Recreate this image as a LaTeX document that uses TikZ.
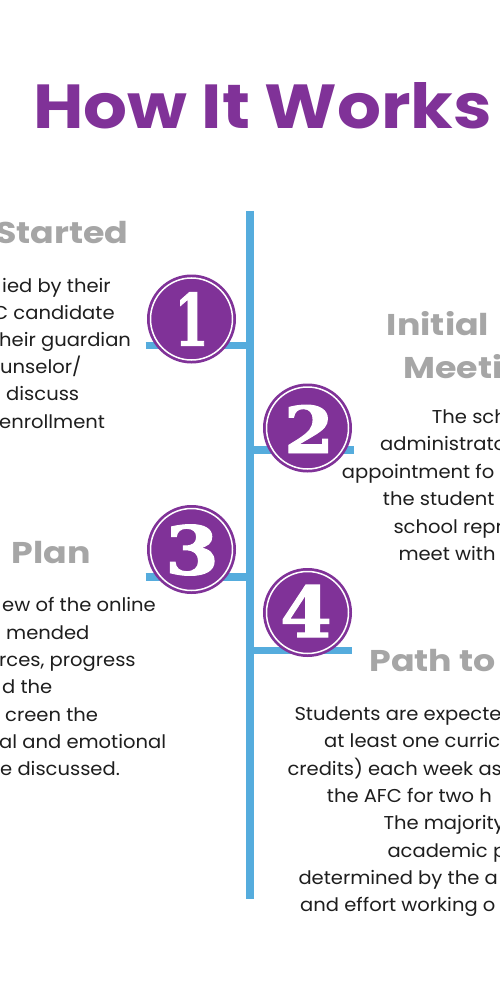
\documentclass[tikz,border=0pt]{standalone}
\usepackage{fontspec}
\setmainfont{Poppins}[FakeStretch=1.05]
\newfontfamily\headfont{Poppins}[FakeStretch=1.16]
\newfontfamily\digitfont{DejaVu Serif}[FakeBold=1.5]
\definecolor{brandpurple}{RGB}{128,50,152}
\definecolor{lineblue}{RGB}{85,172,221}
\definecolor{headgray}{RGB}{166,166,166}
\definecolor{bodyblack}{RGB}{30,30,30}
\begin{document}
\begin{tikzpicture}[x=1pt,y=-1pt,
  spine/.style={draw=lineblue,line width=8pt},
  branch/.style={draw=lineblue,line width=7.5pt},
  stepcircle/.style={circle,fill=brandpurple,minimum size=89pt,inner sep=0pt},
  ring/.style={circle,draw=white,line width=1.5pt,minimum size=82pt,inner sep=0pt},
  digit/.style={text=white,inner sep=0pt,font=\digitfont\bfseries},
  heading/.style={text=headgray,inner sep=0pt,font=\headfont\fontsize{30}{30}\selectfont\bfseries},
  body/.style={text=bodyblack,inner sep=0pt,font=\fontsize{18.6}{18.6}\selectfont,anchor=base west},
  titletext/.style={text=brandpurple,inner sep=0pt,font=\bfseries}
]
\useasboundingbox (0,0) rectangle (500,1000);
\clip (0,0) rectangle (500,1000);
\fill[white] (0,0) rectangle (500,1000);

% title
\node[titletext,anchor=north west] (title) at (33,82) {\resizebox{459pt}{46pt}{How It Works}};

% timeline
\coordinate (spinetop) at (249.5,211);
\coordinate (spinebot) at (249.5,899);
\draw[spine] (spinetop) -- (spinebot);
\coordinate (b1) at (145.7,345.5);
\coordinate (b2) at (354,450);
\coordinate (b3) at (145.7,577);
\coordinate (b4) at (352,650.5);
\draw[branch] (b1) -- (b1 -| spinetop);
\draw[branch] (b2 -| spinetop) -- (b2);
\draw[branch] (b3) -- (b3 -| spinetop);
\draw[branch] (b4 -| spinetop) -- (b4);

% step circles
\node[stepcircle] (c1) at (191.5,319) {};
\node[ring] (r1) at (c1) {};
\node[digit] (d1) at (c1) {\resizebox{34pt}{53pt}{1}};
\node[stepcircle] (c2) at (307.5,428) {};
\node[ring] (r2) at (c2) {};
\node[digit] (d2) at (309,429) {\resizebox{50pt}{48pt}{2}};
\node[stepcircle] (c3) at (191.5,549.5) {};
\node[ring] (r3) at (c3) {};
\node[digit] (d3) at (192,550) {\resizebox{54pt}{50pt}{3}};
\node[stepcircle] (c4) at (307.5,612.5) {};
\node[ring] (r4) at (c4) {};
\node[digit] (d4) at (306,611) {\resizebox{52pt}{52pt}{4}};

% headings
\node[heading,anchor=base west] (h1) at (-5,243.3) {Started};
\node[heading,anchor=base west] (h2a) at (386.7,335) {Initial};
\node[heading,anchor=base west] (h2b) at (403,378.3) {Meeti};
\node[heading,anchor=base east] (h3) at (90.7,563.3) {Plan};
\node[heading,anchor=base west] (h4) at (369.3,671.7) {Path to};

% step 1 text
\node[body] (t1a) at (2,292) {ied by their};
\node[body] (t1b) at (-7,319) {C candidate};
\node[body] (t1c) at (-1,346) {heir guardian};
\node[body] (t1d) at (0,373) {unselor/};
\node[body] (t1e) at (6,400) {discuss};
\node[body] (t1f) at (-1,428) {enrollment};

% step 2 text
\node[body] (t2a) at (431.7,423) {The sch};
\node[body] (t2b) at (380,450) {administrato};
\node[body] (t2c) at (341.7,478) {appointment fo};
\node[body] (t2d) at (382.7,505) {the student};
\node[body] (t2e) at (393.3,533) {school repr};
\node[body] (t2f) at (398.3,560) {meet with};

% step 3 text
\node[body] (t3a) at (2,611) {ew of the online};
\node[body] (t3b) at (6,639) {mended};
\node[body] (t3c) at (-1,666) {rces, progress};
\node[body] (t3d) at (2,693) {d the};
\node[body] (t3e) at (5,721) {creen the};
\node[body] (t3f) at (-1,748) {al and emotional};
\node[body] (t3g) at (0,775) {e discussed.};

% step 4 text
\node[body] (t4a) at (294.3,720) {Students are expecte};
\node[body] (t4b) at (324,747) {at least one curric};
\node[body] (t4c) at (287.3,775) {credits) each week as};
\node[body] (t4d) at (326.7,802) {the AFC for two h};
\node[body] (t4e) at (383.3,829) {The majority};
\node[body] (t4f) at (387.3,857) {academic p};
\node[body] (t4g) at (298.3,884) {determined by the a};
\node[body] (t4h) at (300,911) {and effort working o};
\end{tikzpicture}
\end{document}
